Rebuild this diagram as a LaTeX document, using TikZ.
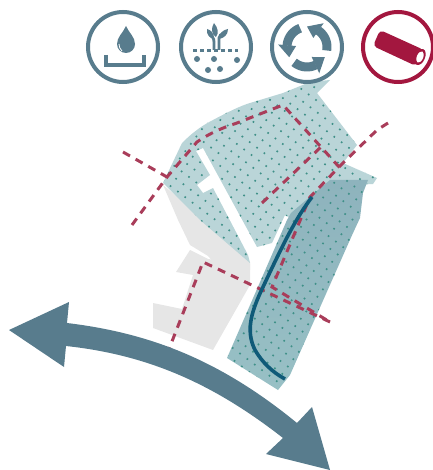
\documentclass[tikz,border=0pt]{standalone}
\usetikzlibrary{arrows.meta,positioning}
\definecolor{slate}{HTML}{587C8D}
\definecolor{paleteal}{HTML}{BAD5D8}
\definecolor{midteal}{HTML}{8EB3BD}
\definecolor{lowteal}{HTML}{98C0C5}
\definecolor{dotteal}{HTML}{3F9088}
\definecolor{greyblock}{HTML}{E6E6E6}
\definecolor{wine}{HTML}{A3173F}
\definecolor{dashwine}{HTML}{A93D5A}
\definecolor{drain}{HTML}{0F5A78}
\newcommand{\palepath}{(163,183) -- (182,143) .. controls (195,130) and (205,124) .. (213,120) .. controls (228,112) and (240,106) .. (250,103) -- (283,93) -- (310,82) -- (330,80) -- (317,93) -- (357,145) -- (343,163) -- (377,178) -- (373,184) -- (330,185) -- (296,222) -- (285,215) -- (272,243) -- (257,247) -- (203,148) -- (196,151) -- (210,175) -- (197,185) -- (203,193) -- (213,188) -- (248,255) -- (250,263) -- (200,220) -- cycle}
\newcommand{\midpath}{(227,358) -- (287,220) -- (291,213) -- (312,195) -- (330,180) -- (368,180) -- (363,193) -- (360,218) -- (353,233) -- (290,375) -- (278,390) -- cycle}
\newcommand{\dotfield}{\fill[dotteal, rotate=8] \foreach \i in {7,...,28} { \foreach \j in {15,...,68} {
    ({13*\i+6.5*mod(\j,2)},{6.5*\j}) circle[radius=1.15pt]
  } };}
\begin{document}
\begin{tikzpicture}[x=1pt, y=-1pt,
  iconring/.style={circle, draw=slate, line width=4pt, minimum size=70pt, inner sep=0pt, fill=white},
  redring/.style={iconring, draw=wine},
  route/.style={draw=dashwine, line width=3pt, dash pattern=on 8pt off 6.5pt},
  glyph/.style={draw=slate, line width=3.5pt},
  turnarrow/.style={draw=slate, line width=9pt}
]
\useasboundingbox (0,0) rectangle (432,470);
% blocks
\fill[greyblock] (163,185) -- (178,220) -- (190,245) -- (208,256) -- (220,270) -- (250,270) -- (250,262) -- (200,215) -- cycle;
\fill[greyblock] (190,250) -- (176,272) -- (193,275) -- (182,309) -- (153,303) -- (153,328) -- (213,350) -- (250,285) -- (250,264) -- (208,259) -- cycle;
\fill[paleteal] \palepath;
\begin{scope}
  \clip \palepath;
  \dotfield
\end{scope}
\shade[top color=midteal, bottom color=lowteal] \midpath;
\begin{scope}
  \clip \midpath;
  \dotfield
\end{scope}
% routes
\draw[route] (123,152) -- (167,177);
\draw[route] (132,225) -- (167,177) -- (197,142) .. controls (210,133) and (222,128) .. (237,123) -- (283,105) -- (340,168) -- (335,168);
\draw[route] (262,203) -- (322,146);
\draw[route] (388,123) -- (377,130) -- (343,163) -- (310,197) -- (272,287) -- (330,322);
\draw[route] (330,322) -- (203,262) -- (162,367);
% drain
\draw[drain, line width=3.6pt] (312,197) .. controls (296,218) and (285,240) .. (263,287) .. controls (252,310) and (245,330) .. (255,350) .. controls (262,362) and (272,372) .. (285,379);
% big arrow
\fill[slate] (9,330) -- (69,302) -- (67,323) .. controls (150,333) and (220,360) .. (297,423) -- (312,407) -- (330,470) -- (266,454) -- (283,438) .. controls (215,385) and (150,355) .. (66,346) -- (64,367) -- cycle;
% icons
\node[iconring] (waterring) at (123,47) {};
\node[iconring] (soilring) at (216,47) {};
\node[iconring] (cyclering) at (307,47) {};
\node[redring] (pipering) at (398,47) {};
% water
\fill[slate] (126,26) .. controls (123,33) and (117,37) .. (117,44) .. controls (117,49) and (121,53) .. (126,53) .. controls (131,53) and (135,49) .. (135,44) .. controls (135,37) and (129,33) .. (126,26) -- cycle;
\draw[white, line width=0.8pt] (119,44) .. controls (119,47) and (120,49) .. (122,51);
\draw[glyph] (106,55) -- (106,65) -- (144,65) -- (144,55);
% soil
\draw[slate, line width=2.8pt] (214,50) -- (214,42) .. controls (214,38) and (212,36) .. (210,35);
\draw[slate, line width=2.8pt] (219,50) -- (219,38) .. controls (219,36) and (221,34) .. (224,33);
\fill[slate] (216,37) .. controls (211,34) and (211,28) .. (214,23) .. controls (218,28) and (219,33) .. (216,37) -- cycle;
\fill[slate] (207,29) .. controls (211,30) and (214,33) .. (214,39) .. controls (210,38) and (206,35) .. (207,29) -- cycle;
\fill[slate] (228,29) .. controls (223,30) and (219,33) .. (219,39) .. controls (224,38) and (228,35) .. (228,29) -- cycle;
\draw[slate, line width=3pt, dash pattern=on 3.5pt off 3.5pt] (193,51) -- (238,51);
\foreach \spotx/\spoty in {197/59, 214/59, 237/60, 208/70, 220/69}
  \fill[slate] (\spotx,\spoty) circle[radius=3pt];
% cycle
\begin{scope}[shift={(307,47)}]
  \foreach \ang in {-10,110,230} {
    \draw[turnarrow] plot[domain=\ang:\ang+66, samples=10] ({-\x}:20);
    \fill[slate] ({-\ang-65}:29) -- ({-\ang-100}:20.5) -- ({-\ang-65}:11) -- cycle;
  }
\end{scope}
% pipe
\fill[wine, rounded corners=4pt] (380,30) -- (424,50) -- (416,66) -- (373,46) -- cycle;
\fill[wine, shift={(420,57)}, rotate=67] (0,0) ellipse[x radius=8.5pt, y radius=5pt];
\fill[white, shift={(420,57)}, rotate=67] (0,0) ellipse[x radius=6pt, y radius=3.2pt];
\end{tikzpicture}
\end{document}
